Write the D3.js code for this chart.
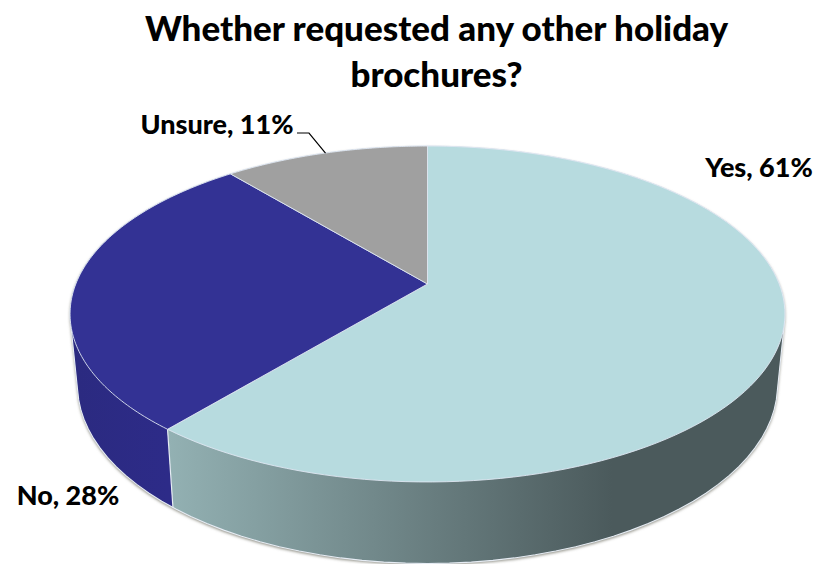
<!DOCTYPE html>
<html>
<head>
<meta charset="utf-8">
<script src="https://cdn.jsdelivr.net/npm/d3@7"></script>
<style>
html,body{margin:0;padding:0;background:#fff}
svg{display:block}
text{font-family:Lato,"Open Sans",sans-serif;font-weight:900;fill:#000}
</style>
</head>
<body>
<svg id="chart" width="817" height="564"></svg>
<script>
const titleLines = ["Whether requested any other holiday", "brochures?"];
const categories = ["Yes", "No", "Unsure"];
const values = [61, 28, 11];
const topColors = ["#b7dbdf", "#333294", "#a0a0a0"];
const wallStops = [["#93b1b3", "#4b5a5c"], ["#2b2a80", "#2d2b88"]];

const W = 817, H = 564;
const svg = d3.select("#chart").attr("viewBox", [0, 0, W, H]);

// Tilted-disc projection: unit circle (u, v) to screen, with the near edge enlarged.
const disc = {cx: 427.5, cy: 284, a: 351.7, b: 162.6, c: 0.1786};
const rim = {cx: 427.5, cy: 353, a: 344.4, b: 172.9, c: 0.1786};
const project = (p, theta) => {
  const u = Math.sin(theta), v = -Math.cos(theta), d = 1 - p.c * v;
  return [p.cx + p.a * u / d, p.cy + p.b * v / d];
};

const arcAngles = (a0, a1) => d3.range(0, 1.0001, 1 / 120).map(t => a0 + (a1 - a0) * t);
const line = d3.line();
const slices = d3.pie().sort(null).value(d => d)(values);

// Outer silhouette of the extruded disc
const full = arcAngles(0, 2 * Math.PI);
const hull = d3.polygonHull(full.map(t => project(disc, t)).concat(full.map(t => project(rim, t))));
const hullPath = line(hull) + "Z";

// The seam between the two visible walls, extended far enough to split the silhouette
const seamAngle = slices[0].endAngle;
const seamTop = project(disc, seamAngle), seamBottom = project(rim, seamAngle);
const seamDx = seamBottom[0] - seamTop[0], seamDy = seamBottom[1] - seamTop[1];
const seamFar = [seamBottom[0] + seamDx, seamBottom[1] + seamDy];

const defs = svg.append("defs");
defs.append("filter").attr("id", "soft").attr("x", "-5%").attr("y", "-5%")
  .attr("width", "110%").attr("height", "110%")
  .append("feGaussianBlur").attr("stdDeviation", 1.5);

defs.append("clipPath").attr("id", "wall0").append("path")
  .attr("d", line([seamTop, seamFar, [W, H + 80], [W, 0], [seamTop[0], 0]]) + "Z");
defs.append("clipPath").attr("id", "wall1").append("path")
  .attr("d", line([seamTop, seamFar, [0, H + 80], [0, 0], [seamTop[0], 0]]) + "Z");

const yesRamp = defs.append("linearGradient").attr("id", "ramp0")
  .attr("gradientUnits", "userSpaceOnUse")
  .attr("x1", seamTop[0]).attr("x2", 612).attr("y1", 0).attr("y2", 0);
const noRamp = defs.append("linearGradient").attr("id", "ramp1")
  .attr("gradientUnits", "userSpaceOnUse")
  .attr("x1", 70).attr("x2", seamTop[0]).attr("y1", 0).attr("y2", 0);
[yesRamp, noRamp].forEach((g, i) => {
  g.append("stop").attr("offset", 0).attr("stop-color", wallStops[i][0]);
  g.append("stop").attr("offset", 1).attr("stop-color", wallStops[i][1]);
});

// Soft shadow hugging the lower outline
svg.append("path")
  .attr("d", hullPath)
  .attr("transform", "translate(0,1.5)")
  .attr("fill", "#8a8a80")
  .attr("filter", "url(#soft)");

// Walls: the silhouette filled twice, each side of the seam
svg.append("g").selectAll("path").data(wallStops).join("path")
  .attr("d", hullPath)
  .attr("clip-path", (d, i) => `url(#wall${i})`)
  .attr("fill", (d, i) => `url(#ramp${i})`);

svg.append("path")
  .attr("d", hullPath)
  .attr("fill", "none")
  .attr("stroke", "#e6ecf4")
  .attr("stroke-width", 1.1);

svg.append("path")
  .attr("d", line([seamTop, seamBottom]))
  .attr("stroke", "#e6ecf4")
  .attr("stroke-width", 1.2);

// Top face
svg.append("g").selectAll("path").data(slices).join("path")
  .attr("d", s => line([[disc.cx, disc.cy]].concat(arcAngles(s.startAngle, s.endAngle).map(t => project(disc, t)))) + "Z")
  .attr("fill", (s, i) => topColors[i])
  .attr("stroke", "#dfe6f2")
  .attr("stroke-width", 0.9)
  .attr("stroke-linejoin", "round");

// Title
svg.append("g").selectAll("text").data(titleLines).join("text")
  .attr("x", 436.5)
  .attr("y", (d, i) => 41 + i * 46)
  .attr("text-anchor", "middle")
  .attr("font-size", 35)
  .text(d => d);

// Slice labels
const labelAnchors = [[759, 177], [68, 505], [217, 134]];
svg.append("g").selectAll("text").data(categories).join("text")
  .attr("x", (d, i) => labelAnchors[i][0])
  .attr("y", (d, i) => labelAnchors[i][1])
  .attr("text-anchor", "middle")
  .attr("font-size", 27)
  .text((d, i) => `${d}, ${values[i]}%`);

// Leader from the Unsure label to the middle of its arc
const unsure = slices[2];
const tip = project(disc, (unsure.startAngle + unsure.endAngle) / 2);
svg.append("path")
  .attr("d", line([[297, 133], [309, 133], tip]))
  .attr("fill", "none")
  .attr("stroke", "#000")
  .attr("stroke-width", 1.2);
</script>
</body>
</html>
